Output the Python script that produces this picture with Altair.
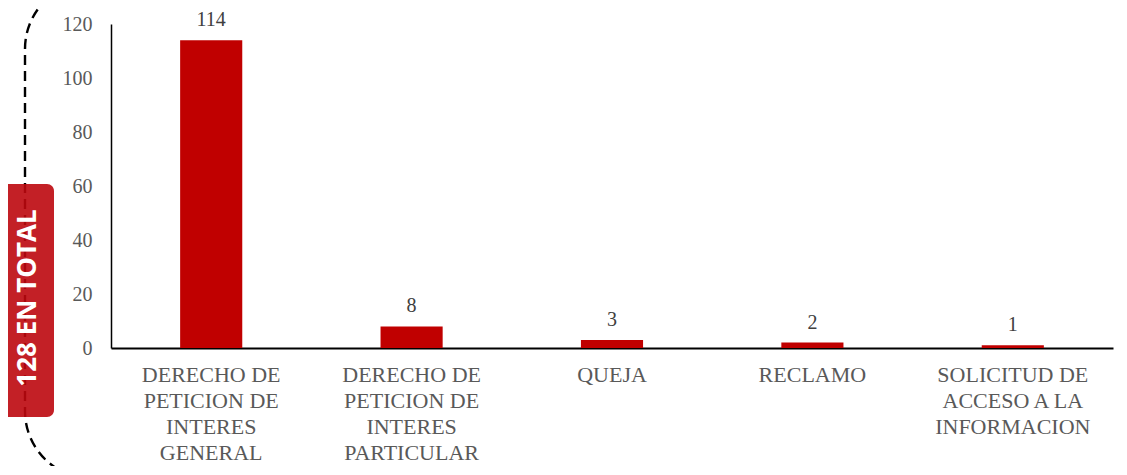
import altair as alt
import pandas as pd

categories = [
    "DERECHO DE\nPETICION DE\nINTERES\nGENERAL",
    "DERECHO DE\nPETICION DE\nINTERES\nPARTICULAR",
    "QUEJA",
    "RECLAMO",
    "SOLICITUD DE\nACCESO A LA\nINFORMACION",
]
values = [114, 8, 3, 2, 1]
total_label = "128 EN TOTAL"
y_ticks = [0, 20, 40, 60, 80, 100, 120]

df = pd.DataFrame({"cat": categories, "val": values})

SERIF = "Liberation Serif"

x_enc = alt.X(
    "cat:N",
    sort=categories,
    scale=alt.Scale(paddingInner=0.69, paddingOuter=0.345),
    axis=alt.Axis(
        title=None,
        labelAngle=0,
        labelExpr="split(datum.label, '\\n')",
        labelFont=SERIF,
        labelFontSize=22,
        labelColor="#595959",
        labelLineHeight=26,
        labelPadding=16,
        labelBaseline="top",
        labelLimit=300,
        ticks=False,
        domainColor="#000000",
        domainWidth=2,
    ),
)
y_enc = alt.Y(
    "val:Q",
    scale=alt.Scale(domain=[0, 120], nice=False),
    axis=alt.Axis(
        title=None,
        values=y_ticks,
        grid=False,
        ticks=False,
        labelFont=SERIF,
        labelFontSize=20,
        labelColor="#595959",
        labelPadding=19,
        domainColor="#000000",
        domainWidth=1.5,
    ),
)

base = alt.Chart(df)
bars = base.mark_bar(color="#C00000").encode(x=x_enc, y=y_enc)
texts = base.mark_text(
    font=SERIF, fontSize=20, color="#404040", baseline="alphabetic", dy=-14
).encode(x=alt.X("cat:N", sort=categories), y="val:Q", text="val:Q")

one = alt.Data(values=[{}])
dashed = alt.Chart(one).mark_rect(
    fillOpacity=0, stroke="#000000", strokeWidth=2.4, strokeDash=[10, 6],
    cornerRadius=68, clip=False,
).encode(
    x=alt.value(-86), x2=alt.value(1600), y=alt.value(-43), y2=alt.value(455)
)
box = alt.Chart(one).mark_rect(
    color="#BD080E", opacity=0.9, cornerRadius=7, clip=False
).encode(
    x=alt.value(-130), x2=alt.value(-57), y=alt.value(160), y2=alt.value(393)
)
box_text = alt.Chart(one).mark_text(
    text=total_label, font="Open Sans", fontWeight="bold", fontSize=26,
    color="#FFFFFF", angle=270, align="center", baseline="middle", clip=False,
).encode(x=alt.value(-83), y=alt.value(274))

chart = alt.layer(dashed, bars, texts, box, box_text).properties(
    width=1002,
    height=324,
    autosize=alt.AutoSizeParams(type="none"),
    padding={"left": 103, "top": 16, "right": 4, "bottom": 118},
).configure_view(stroke=None)

chart.save("out.html", embed_options={"renderer": "svg", "actions": False})
